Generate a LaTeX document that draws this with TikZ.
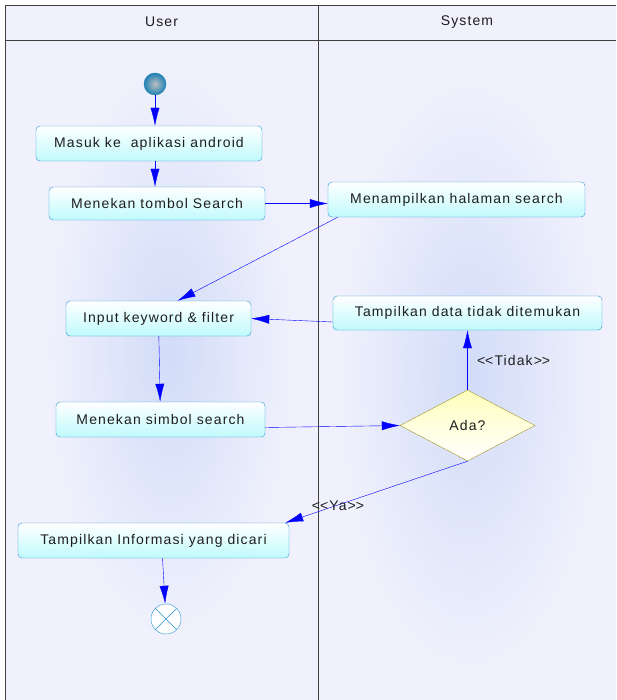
\documentclass[tikz,border=0pt]{standalone}
\usepackage{fontspec}
\setmainfont{Liberation Sans}[LetterSpace=8]
\usetikzlibrary{arrows.meta,shapes.geometric}

\definecolor{lanebg}{RGB}{240,241,252}
\definecolor{laneglow}{RGB}{210,220,248}
\definecolor{actborder}{RGB}{40,150,210}
\definecolor{actbottom}{RGB}{192,250,252}
\definecolor{decborder}{RGB}{160,150,40}
\definecolor{dectop}{RGB}{255,255,188}
\definecolor{flowblue}{RGB}{0,0,255}
\definecolor{textdark}{RGB}{30,30,30}
\definecolor{startblue}{RGB}{30,130,180}

\begin{document}
\begin{tikzpicture}[x=1pt,y=-1pt,
    every node/.style={font=\fontsize{14}{16}\selectfont,text=textdark},
    activity/.style={draw=actborder,rounded corners=4pt,top color=white,
      bottom color=actbottom,minimum height=35pt,inner sep=0pt},
    decision/.style={diamond,draw=decborder,top color=dectop,bottom color=white,
      aspect=1.9,minimum width=135pt,minimum height=71pt,inner sep=0pt},
    flow/.style={draw=flowblue,-{Latex[length=18pt,width=9pt]}}]
  \useasboundingbox (0,0) rectangle (616,700);
  % swimlanes
  \fill[lanebg] (5,5) rectangle (616,700);
  \shade[inner color=laneglow,outer color=lanebg] (45,60) rectangle (295,640);
  \shade[inner color=laneglow,outer color=lanebg] (335,70) rectangle (605,680);
  \draw[black!75] (5,700) -- (5,5) -- (616,5);
  \draw[black!75] (5,40) -- (616,40);
  \draw[black!75] (318,5) -- (318,700);
  \node (user) at (161.5,22) {User};
  \node (system) at (467,22) {System};

  % user lane
  \node[circle,draw=startblue,inner color=black!25,outer color=startblue,
    minimum size=22pt,inner sep=0pt] (start) at (155,84) {};
  \node[activity,minimum width=226pt] (masuk) at (149,143.5) {Masuk ke\ \ aplikasi android};
  \node[activity,minimum width=216pt,minimum height=33pt] (tombol) at (157,203.5) {Menekan tombol Search};
  \node[activity,minimum width=185pt] (input) at (158.5,318.5) {Input keyword \& filter};
  \node[activity,minimum width=209pt] (simbol) at (160.5,419.5) {Menekan simbol search};
  \node[activity,minimum width=271pt] (info) at (153.5,540.5) {Tampilkan Informasi yang dicari};
  \node[circle,draw=actborder,fill=white,minimum width=30pt,minimum height=27pt,
    inner sep=0pt] (end) at (166,619) {};
  \draw[actborder] (end.45) -- (end.225) (end.135) -- (end.315);

  % system lane
  \node[activity,minimum width=257pt] (halaman) at (456.5,199.5) {Menampilkan halaman search};
  \node[activity,minimum width=269pt,minimum height=34pt] (kosong) at (467.5,313) {Tampilkan data tidak ditemukan};
  \node[decision] (ada) at (467.5,425.5) {Ada?};

  % flows
  \draw[flow] (start) -- (start.south |- masuk.north);
  \draw[flow] (masuk.south -| start) -- (tombol.north -| start);
  \draw[flow] (tombol.east) -- (tombol.east -| halaman.west);
  \draw[flow] ([xshift=10pt]halaman.south west) -- ([xshift=19pt]input.north);
  \draw[flow] ([yshift=-9pt]kosong.west) -- (input.east);
  \draw[flow] (input) -- (simbol);
  \draw[flow] ([yshift=-8pt]simbol.east) -- (ada.west);
  \draw[flow] (ada.north) -- (kosong.south) node[pos=0.5,right=6pt] (tidak) {<\kern0pt<Tidak>\kern0pt>};
  \draw[flow] (ada.south) -- ([xshift=-4pt]info.north east);
  \node (ya) at (338,506) {<\kern0pt<Ya>\kern0pt>};
  \draw[flow] ([xshift=9pt]info.south) -- (end);
\end{tikzpicture}
\end{document}
